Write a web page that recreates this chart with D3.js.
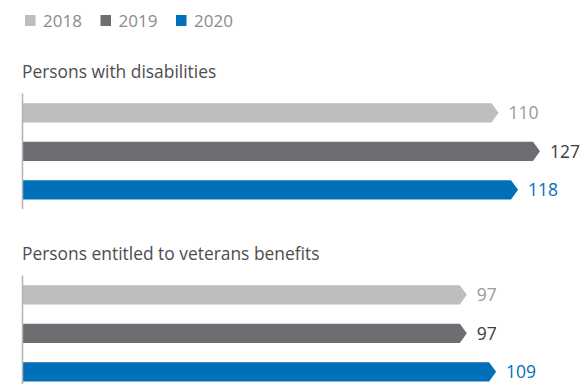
<!DOCTYPE html>
<html>
<head>
<meta charset="utf-8">
<script src="https://cdn.jsdelivr.net/npm/d3@7"></script>
<style>
  body { margin: 0; background: #fff; }
  svg text { font-family: "Open Sans", "Noto Sans", sans-serif; }
</style>
</head>
<body>
<div id="chart"></div>
<script>
// Data
var years = ["2018", "2019", "2020"];
var groups = ["Persons with disabilities", "Persons entitled to veterans benefits"];
var disabilities = [110, 127, 118];
var veterans = [97, 97, 109];
var seriesValues = [disabilities, veterans];

var colors = {"2018": "#bcbec0", "2019": "#6d6e71", "2020": "#0070ba"};
var labelColors = {"2018": "#98999b", "2019": "#3c3c3e", "2020": "#0070ba"};

var width = 583, height = 384;

var svg = d3.select("#chart").append("svg")
    .attr("width", width)
    .attr("height", height);

// x scale: the chart's bars are not zero based, the baseline sits well below 0
var xScale = d3.scaleLinear()
    .domain([-85, 127])
    .range([23, 540]);

// Legend
var legend = svg.append("g").attr("class", "legend")
    .selectAll("g")
    .data(years)
    .enter()
    .append("g")
    .attr("transform", function(d, i) { return "translate(" + (25 + i * 75.5) + ",15)"; });

legend.append("rect")
    .attr("width", 10.5)
    .attr("height", 11)
    .attr("fill", function(d) { return colors[d]; });

legend.append("text")
    .attr("x", 18)
    .attr("y", 11.5)
    .attr("font-size", 17)
    .attr("fill", "#8a8b8d")
    .text(function(d) { return d; });

// Panels
var panelTop = 93.5;
var panelStep = 182;

groups.forEach(function(name, gi) {
    var top = panelTop + gi * panelStep;
    var yScale = d3.scaleBand()
        .domain(years)
        .range([top, top + 115.5])
        .paddingInner(0.5)
        .paddingOuter(0.25);

    var g = svg.append("g").attr("class", "panel");

    g.append("text")
        .attr("x", 22)
        .attr("y", top - 16)
        .attr("font-size", 17.4)
        .attr("fill", "#4d4d4f")
        .text(name);

    var data = years.map(function(y, i) { return {year: y, value: seriesValues[gi][i]}; });

    var bh = yScale.bandwidth();
    var tip = 7;

    g.selectAll("path.bar")
        .data(data)
        .enter()
        .append("path")
        .attr("class", "bar")
        .attr("fill", function(d) { return colors[d.year]; })
        .attr("d", function(d) {
            var x0 = xScale.range()[0];
            var x1 = xScale(d.value);
            var y0 = yScale(d.year);
            return "M" + x0 + "," + y0 +
                "L" + (x1 - tip) + "," + y0 +
                "L" + x1 + "," + (y0 + bh / 2) +
                "L" + (x1 - tip) + "," + (y0 + bh) +
                "L" + x0 + "," + (y0 + bh) + "Z";
        });

    g.selectAll("text.val")
        .data(data)
        .enter()
        .append("text")
        .attr("class", "val")
        .attr("x", function(d) { return xScale(d.value) + 10; })
        .attr("y", function(d) { return yScale(d.year) + bh / 2 + 6.5; })
        .attr("font-size", 17.5)
        .attr("fill", function(d) { return labelColors[d.year]; })
        .text(function(d) { return d.value; });

    // baseline
    g.append("line")
        .attr("x1", 22.5).attr("x2", 22.5)
        .attr("y1", top).attr("y2", Math.min(top + 115.5, height))
        .attr("stroke", "#b3b3b3")
        .attr("stroke-width", 1.5);
});
</script>
</body>
</html>
